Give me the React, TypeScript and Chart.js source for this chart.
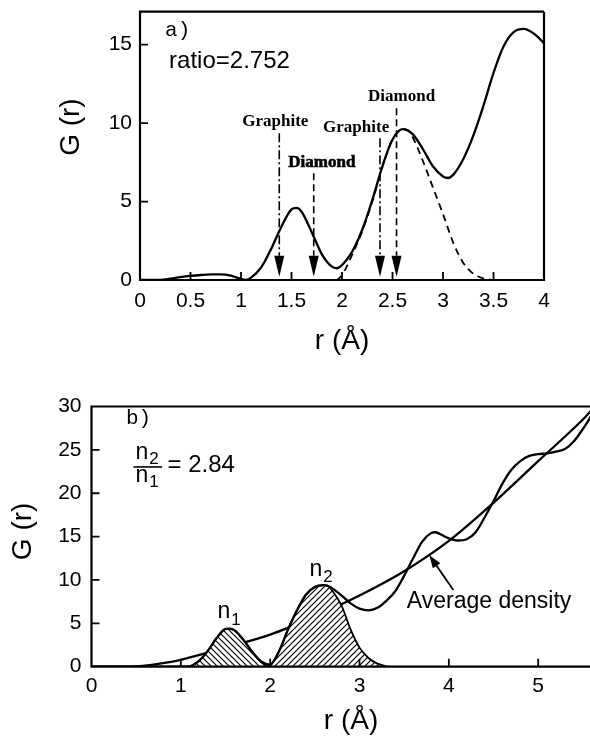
import React, { useEffect, useRef } from 'react';
import { Chart, registerables } from 'chart.js';

Chart.register(...registerables);

// ---------------- Panel a) ----------------
const aR = [0, 0.2, 0.3, 0.4, 0.5, 0.6, 0.7, 0.8, 0.9, 1.0, 1.05, 1.1, 1.2, 1.3, 1.4, 1.5, 1.55, 1.6, 1.7, 1.8, 1.9, 1.95, 2.0, 2.1, 2.2, 2.3, 2.4, 2.5, 2.6, 2.7, 2.8, 2.9, 3.0, 3.05, 3.1, 3.2, 3.3, 3.4, 3.5, 3.6, 3.7, 3.8, 3.9, 4.0];
const aG = [0, 0, 0.08, 0.18, 0.26, 0.32, 0.36, 0.36, 0.28, 0.06, 0.0, 0.15, 0.8, 2.0, 3.4, 4.5, 4.6, 4.35, 3.05, 1.65, 0.85, 0.75, 0.95, 1.8, 3.2, 5.1, 7.25, 8.95, 9.62, 9.3, 8.35, 7.25, 6.6, 6.5, 6.7, 7.7, 9.2, 11.1, 13.2, 14.9, 15.8, 16.0, 15.7, 15.1];
const aFitR = [1.95, 2.0, 2.05, 2.1, 2.2, 2.3, 2.4, 2.5, 2.6, 2.65, 2.7, 2.8, 2.9, 3.0, 3.1, 3.2, 3.3, 3.4, 3.5];
const aFit = [0, 0.3, 0.9, 1.6, 3.1, 5.0, 7.2, 8.95, 9.6, 9.55, 9.1, 7.6, 5.9, 4.2, 2.4, 1.1, 0.4, 0.1, 0];
const aXTicks = [0, 0.5, 1, 1.5, 2, 2.5, 3, 3.5, 4];
const aXTickLabels = ['0', '0.5', '1', '1.5', '2', '2.5', '3', '3.5', '4'];
const aYTicks = [0, 5, 10, 15];
const aYTickLabels = ['0', '5', '10', '15'];
const aPeakR = [1.379, 1.72, 2.376, 2.54];
const aPeakTop = [9.36, 6.8, 9.04, 10.95];
const aPeakPhase = ['Graphite', 'Diamond', 'Graphite', 'Diamond'];
const aPeakLabelR = [1.34, 1.8, 2.14, 2.59];
const aPeakLabelG = [10.1, 7.5, 9.7, 11.7];

// ---------------- Panel b) ----------------
const bR = [0, 0.5, 1.0, 1.1, 1.2, 1.3, 1.4, 1.5, 1.55, 1.6, 1.7, 1.8, 1.9, 2.0, 2.1, 2.2, 2.3, 2.4, 2.5, 2.6, 2.65, 2.7, 2.8, 2.9, 3.0, 3.1, 3.2, 3.3, 3.4, 3.5, 3.6, 3.7, 3.8, 3.85, 3.9, 4.0, 4.1, 4.2, 4.3, 4.4, 4.5, 4.6, 4.7, 4.8, 4.9, 5.0, 5.1, 5.2, 5.3, 5.4, 5.5, 5.6];
const bG = [0, 0, 0, 0.05, 0.65, 1.8, 3.3, 4.35, 4.4, 4.2, 3.1, 1.7, 0.6, 0.25, 1.8, 4.3, 6.5, 8.3, 9.2, 9.4, 9.3, 9.0, 8.2, 7.3, 6.7, 6.5, 6.8, 7.6, 8.7, 10.5, 12.5, 14.4, 15.4, 15.5, 15.3, 14.8, 14.55, 14.7, 15.5, 17.2, 19.1, 21.1, 22.7, 23.7, 24.3, 24.5, 24.6, 24.8, 25.1, 26.0, 27.4, 29.0];
const bAvgR = [0, 0.4, 0.6, 0.8, 1.0, 1.5, 2.0, 2.5, 3.0, 3.5, 4.0, 4.5, 5.0, 5.5, 5.6];
const bAvg = [0, 0, 0.12, 0.4, 0.8, 2.2, 3.7, 5.8, 8.2, 11.0, 14.5, 18.9, 23.7, 28.5, 29.6];
const bN1R = [1.07, 1.1, 1.2, 1.3, 1.4, 1.5, 1.55, 1.6, 1.7, 1.8, 1.9, 2.0];
const bN1 = [0, 0.05, 0.65, 1.8, 3.3, 4.35, 4.4, 4.2, 3.1, 1.7, 0.55, 0.02];
const bN2R = [1.98, 2.0, 2.1, 2.2, 2.3, 2.4, 2.5, 2.6, 2.65, 2.7, 2.8, 2.9, 3.0, 3.1, 3.2, 3.3, 3.35];
const bN2 = [0, 0.1, 1.8, 4.3, 6.5, 8.3, 9.2, 9.4, 9.3, 8.7, 7.0, 4.3, 2.2, 1.0, 0.35, 0.05, 0];
const bXTicks = [0, 1, 2, 3, 4, 5];
const bXTickLabels = ['0', '1', '2', '3', '4', '5'];
const bYTicks = [0, 5, 10, 15, 20, 25, 30];
const bYTickLabels = ['0', '5', '10', '15', '20', '25', '30'];
const bRatio = '2.84';
const bArrowFrom = [4.05, 8.85];
const bArrowTo = [3.78, 12.87];

const SANS = '"Liberation Sans", Arial, Helvetica, sans-serif';
const SERIF = '"Liberation Serif", "Times New Roman", serif';
const MONO = '"Liberation Mono", "Courier New", monospace';

const pts = (xs: number[], ys: number[]) => xs.map((x, i) => ({ x, y: ys[i] }));

function text(ctx: CanvasRenderingContext2D, s: string, x: number, y: number, font: string, align: CanvasTextAlign = 'left', base: CanvasTextBaseline = 'middle') {
  ctx.font = font;
  ctx.textAlign = align;
  ctx.textBaseline = base;
  ctx.fillStyle = '#000';
  ctx.fillText(s, x, y);
}

function subscripted(ctx: CanvasRenderingContext2D, main: string, sub: string, x: number, baseY: number, size: number, subSize: number, drop: number) {
  ctx.font = `${size}px ${SANS}`;
  ctx.textAlign = 'left';
  ctx.textBaseline = 'alphabetic';
  ctx.fillStyle = '#000';
  ctx.fillText(main, x, baseY);
  const w = ctx.measureText(main).width;
  ctx.font = `${subSize}px ${SANS}`;
  ctx.fillText(sub, x + w + 1, baseY + drop);
}

function arrowHead(ctx: CanvasRenderingContext2D, tx: number, ty: number, fx: number, fy: number, len: number, half: number) {
  const ang = Math.atan2(ty - fy, tx - fx);
  ctx.beginPath();
  ctx.moveTo(tx, ty);
  ctx.lineTo(tx - len * Math.cos(ang) + half * Math.sin(ang), ty - len * Math.sin(ang) - half * Math.cos(ang));
  ctx.lineTo(tx - len * Math.cos(ang) - half * Math.sin(ang), ty - len * Math.sin(ang) + half * Math.cos(ang));
  ctx.closePath();
  ctx.fillStyle = '#000';
  ctx.fill();
}

function frame(chart: any, xTicks: number[], yTicks: number[], right: boolean) {
  const { ctx, chartArea: ca, scales } = chart;
  ctx.save();
  ctx.strokeStyle = '#000';
  ctx.lineWidth = 2.2;
  ctx.setLineDash([]);
  ctx.beginPath();
  ctx.moveTo(ca.right + (right ? 0 : 5), ca.top);
  ctx.lineTo(ca.left, ca.top);
  ctx.lineTo(ca.left, ca.bottom);
  ctx.lineTo(ca.right + (right ? 0 : 5), ca.bottom);
  if (right) {
    ctx.lineTo(ca.right, ca.top);
  }
  ctx.stroke();
  ctx.lineWidth = 1.8;
  ctx.beginPath();
  xTicks.forEach((v) => {
    const px = scales.x.getPixelForValue(v);
    if (px <= ca.left + 1 || px >= ca.right - 1) return;
    ctx.moveTo(px, ca.bottom);
    ctx.lineTo(px, ca.bottom - 8);
  });
  yTicks.forEach((v) => {
    const py = scales.y.getPixelForValue(v);
    if (py >= ca.bottom - 1 || py <= ca.top + 1) return;
    ctx.moveTo(ca.left, py);
    ctx.lineTo(ca.left + 8, py);
  });
  ctx.stroke();
  ctx.restore();
}

function axisTitles(chart: any, xCx: number, xCy: number, yCx: number, yCy: number) {
  const { ctx } = chart;
  ctx.save();
  text(ctx, 'r (Å)', xCx, xCy, `28px ${SANS}`, 'center', 'middle');
  ctx.translate(yCx, yCy);
  ctx.rotate(-Math.PI / 2);
  text(ctx, 'G (r)', 0, 0, `28px ${SANS}`, 'center', 'middle');
  ctx.restore();
}

const panelAPlugin = {
  id: 'panelA',
  afterDraw(chart: any) {
    const { ctx, chartArea: ca, scales } = chart;
    const X = (v: number) => scales.x.getPixelForValue(v);
    const Y = (v: number) => scales.y.getPixelForValue(v);
    frame(chart, aXTicks, aYTicks, true);
    ctx.save();
    aPeakR.forEach((r, i) => {
      const px = X(r);
      const tip = Y(0.2);
      const base = tip - 21;
      ctx.strokeStyle = '#000';
      ctx.lineWidth = 1.6;
      ctx.setLineDash(aPeakPhase[i] === 'Graphite' ? [9, 3, 2, 3] : [7, 4]);
      ctx.beginPath();
      ctx.moveTo(px, Y(aPeakTop[i]));
      ctx.lineTo(px, base);
      ctx.stroke();
      ctx.setLineDash([]);
      arrowHead(ctx, px, tip, px, base, 21, 5);
    });
    aPeakPhase.forEach((s, i) => {
      text(ctx, s, X(aPeakLabelR[i]), Y(aPeakLabelG[i]), `bold 17px ${SERIF}`, 'center', 'middle');
      if (i === 1) {
        ctx.lineWidth = 0.6;
        ctx.strokeStyle = '#000';
        ctx.strokeText(s, X(aPeakLabelR[i]), Y(aPeakLabelG[i]));
      }
    });
    text(ctx, 'a)', X(0.248), Y(15.9), `21px ${MONO}`, 'left', 'middle');
    text(ctx, 'ratio=2.752', X(0.288), Y(13.93), `24px ${SANS}`, 'left', 'middle');
    axisTitles(chart, (ca.left + ca.right) / 2, ca.bottom + 61, ca.left - 68.5, ca.top + (ca.bottom - ca.top) * 0.43);
    ctx.restore();
  },
};

const panelBPlugin = {
  id: 'panelB',
  afterDraw(chart: any) {
    const { ctx, chartArea: ca, scales } = chart;
    const X = (v: number) => scales.x.getPixelForValue(v);
    const Y = (v: number) => scales.y.getPixelForValue(v);
    frame(chart, bXTicks, bYTicks, false);
    ctx.save();
    text(ctx, 'b)', X(0.386), Y(28.67), `21px ${MONO}`, 'left', 'middle');
    subscripted(ctx, 'n', '2', X(0.493), Y(23.95), 23, 17, 5);
    ctx.strokeStyle = '#000';
    ctx.lineWidth = 1.6;
    ctx.beginPath();
    ctx.moveTo(X(0.47), Y(23.03));
    ctx.lineTo(X(0.79), Y(23.03));
    ctx.stroke();
    subscripted(ctx, 'n', '1', X(0.493), Y(21.3), 23, 17, 5);
    text(ctx, '= ' + bRatio, X(0.851), Y(23.26), `24px ${SANS}`, 'left', 'middle');
    subscripted(ctx, 'n', '1', X(1.41), Y(5.58), 23, 17, 7);
    subscripted(ctx, 'n', '2', X(2.44), Y(10.46), 23, 17, 6);
    text(ctx, 'Average density', X(3.53), Y(7.5), `23px ${SANS}`, 'left', 'middle');
    const fx = X(bArrowFrom[0]), fy = Y(bArrowFrom[1]);
    const tx = X(bArrowTo[0]), ty = Y(bArrowTo[1]);
    ctx.lineWidth = 1.8;
    ctx.beginPath();
    ctx.moveTo(fx, fy);
    ctx.lineTo(tx + (fx - tx) * 0.25, ty + (fy - ty) * 0.25);
    ctx.stroke();
    arrowHead(ctx, tx, ty, fx, fy, 13, 4.5);
    axisTitles(chart, ca.left + 259.5, ca.bottom + 55, ca.left - 68, ca.top + (ca.bottom - ca.top) * 0.48);
    ctx.restore();
  },
};

function makeHatch(ctx: CanvasRenderingContext2D, dir: number) {
  const s = 6;
  const c = document.createElement('canvas');
  c.width = s;
  c.height = s;
  const g = c.getContext('2d')!;
  g.fillStyle = '#fff';
  g.fillRect(0, 0, s, s);
  g.strokeStyle = '#000';
  g.lineWidth = 1.2;
  g.beginPath();
  if (dir > 0) {
    g.moveTo(-1, s + 1); g.lineTo(s + 1, -1);
    g.moveTo(-1, 1); g.lineTo(1, -1);
    g.moveTo(s - 1, s + 1); g.lineTo(s + 1, s - 1);
  } else {
    g.moveTo(-1, -1); g.lineTo(s + 1, s + 1);
    g.moveTo(s - 1, -1); g.lineTo(s + 1, 1);
    g.moveTo(-1, s - 1); g.lineTo(1, s + 1);
  }
  g.stroke();
  return ctx.createPattern(c, 'repeat');
}

function scaleOpts(min: number, max: number, ticks: number[], labels: string[], isX: boolean, size: number, pad: number) {
  return {
    type: 'linear' as const,
    min,
    max,
    afterBuildTicks: (s: any) => {
      s.ticks = ticks.map((v) => ({ value: v }));
    },
    ticks: {
      callback: (_v: any, i: number) => labels[i],
      font: { family: SANS, size: 21, lineHeight: 1 },
      color: '#000',
      padding: pad,
      autoSkip: false,
      maxRotation: 0,
      includeBounds: false,
    },
    grid: { display: false, drawTicks: true, tickLength: 8 },
    border: { display: false },
    afterFit: (s: any) => {
      if (isX) {
        s.height = size;
      } else {
        s.width = size;
      }
      s.paddingLeft = 0;
      s.paddingRight = 0;
      s.paddingTop = 0;
      s.paddingBottom = 0;
    },
  };
}

const lineDs = (data: any, extra: any) => ({
  data,
  borderColor: '#000',
  borderWidth: 2.3,
  cubicInterpolationMode: 'monotone',
  pointRadius: 0,
  fill: false,
  ...extra,
});

export default function App() {
  const refA = useRef<HTMLCanvasElement>(null);
  const refB = useRef<HTMLCanvasElement>(null);

  useEffect(() => {
    const common = {
      animation: false,
      responsive: false,
      events: [],
      plugins: { legend: { display: false }, tooltip: { enabled: false } },
    };
    const chartA = new Chart(refA.current!, {
      type: 'line',
      data: {
        datasets: [
          lineDs(pts(aR, aG), { order: 1 }),
          lineDs(pts(aFitR, aFit), { order: 2, borderWidth: 1.8, borderDash: [7, 5] }),
        ],
      },
      options: {
        ...common,
        layout: { padding: { top: 11.7, right: 46, bottom: 0, left: 0 } },
        scales: {
          x: scaleOpts(0, 4, aXTicks, aXTickLabels, true, 91, 3),
          y: scaleOpts(0, 17.1, aYTicks, aYTickLabels, false, 140, 0),
        },
      },
      plugins: [panelAPlugin],
    } as any);

    const ctxB = refB.current!.getContext('2d')!;
    const chartB = new Chart(refB.current!, {
      type: 'line',
      data: {
        datasets: [
          lineDs(pts(bAvgR, bAvg), { order: 4 }),
          lineDs(pts(bN1R, bN1), { order: 3, borderWidth: 1.8, fill: 'origin', backgroundColor: makeHatch(ctxB, -1) }),
          lineDs(pts(bN2R, bN2), { order: 2, borderWidth: 1.8, fill: 'origin', backgroundColor: makeHatch(ctxB, 1) }),
          lineDs(pts(bR, bG), { order: 1 }),
        ],
      },
      options: {
        ...common,
        layout: { padding: { top: 35.5, right: 0, bottom: 0, left: 0 } },
        scales: {
          x: scaleOpts(0, 5.58, bXTicks, bXTickLabels, true, 75.3, 1),
          y: scaleOpts(0, 30, bYTicks, bYTickLabels, false, 91.5, 2),
        },
      },
      plugins: [panelBPlugin],
    } as any);

    return () => {
      chartA.destroy();
      chartB.destroy();
    };
  }, []);

  return (
    <div style={{ position: 'absolute', left: 0, top: 0, width: 590, height: 742, background: '#fff' }}>
      <canvas ref={refA} width={590} height={371} style={{ display: 'block' }} />
      <canvas ref={refB} width={590} height={371} style={{ display: 'block' }} />
    </div>
  );
}
